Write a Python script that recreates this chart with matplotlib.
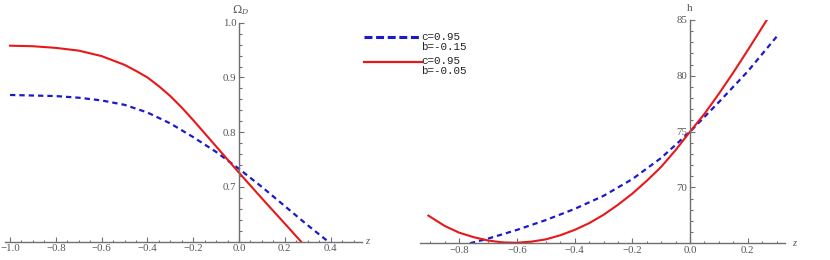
import numpy as np
import matplotlib
matplotlib.use("Agg")
import matplotlib.pyplot as plt
from matplotlib.lines import Line2D
from matplotlib.ticker import MultipleLocator, FixedLocator

plt.rcParams["mathtext.fontset"] = "dejavuserif"

# left panel: Omega_D(z)
z_om_blue = [-1.0, -0.9, -0.8, -0.7, -0.6, -0.5, -0.4, -0.3, -0.2,
             -0.1, 0.0, 0.1, 0.2, 0.3, 0.39]
om_blue = [0.868, 0.867, 0.866, 0.863, 0.858, 0.850, 0.836, 0.816, 0.791,
           0.764, 0.733, 0.700, 0.665, 0.630, 0.600]
z_om_red = [-1.0, -0.9, -0.8, -0.7, -0.6, -0.5, -0.45, -0.4, -0.35, -0.3,
            -0.25, -0.2, -0.15, -0.1, 0.0, 0.1, 0.2, 0.271]
om_red = [0.958, 0.957, 0.954, 0.949, 0.939, 0.923, 0.912, 0.900, 0.884, 0.866,
          0.845, 0.822, 0.798, 0.774, 0.726, 0.679, 0.633, 0.600]

# right panel: h(z)
z_h_blue = [-0.763, -0.7, -0.6, -0.5, -0.4, -0.3, -0.2, -0.1,
            0.0, 0.1, 0.2, 0.303]
h_blue = [65.0, 65.42, 66.2, 67.08, 68.08, 69.25, 70.75, 72.65,
          75.0, 77.65, 80.4, 83.6]
z_h_red = [-0.907, -0.85, -0.8, -0.75, -0.7, -0.65, -0.6, -0.55, -0.5,
           -0.45, -0.4, -0.35, -0.3, -0.25, -0.2, -0.15, -0.1, -0.05,
           0.0, 0.05, 0.1, 0.15, 0.2, 0.266]
h_red = [67.48, 66.55, 65.95, 65.55, 65.25, 65.08, 65.05, 65.15, 65.35,
         65.72, 66.2, 66.8, 67.55, 68.45, 69.45, 70.6, 71.85, 73.35,
         75.0, 76.6, 78.4, 80.3, 82.3, 85.0]

legend_labels = ["c=0.95\nb=-0.15", "c=0.95\nb=-0.05"]

BLUE = "#1a1acc"
RED = "#e81818"
AXC = "#707070"
TXT = "#555555"

W, H = 830, 260
fig = plt.figure(figsize=(W / 100, H / 100), dpi=100)


def frac(x0, x1, ytop, ybot):
    return [x0 / W, 1 - ybot / H, (x1 - x0) / W, (ybot - ytop) / H]


def style(ax, xmaj, xmin_, ymaj, ymin_, xlabels, ylabels):
    for s in ("top", "right"):
        ax.spines[s].set_visible(False)
    ax.spines["left"].set_position(("data", 0))
    for s in ("left", "bottom"):
        ax.spines[s].set_color(AXC)
        ax.spines[s].set_linewidth(1.0)
    ax.xaxis.set_major_locator(FixedLocator(xmaj))
    ax.xaxis.set_minor_locator(MultipleLocator(xmin_))
    ax.yaxis.set_major_locator(FixedLocator(ymaj))
    ax.yaxis.set_minor_locator(MultipleLocator(ymin_))
    ax.set_xticklabels(xlabels)
    ax.set_yticklabels(ylabels)
    ax.tick_params(which="both", direction="in", color=AXC, width=0.8)
    ax.tick_params(which="major", length=3.5, labelsize=7.8, labelcolor=TXT, pad=2)
    ax.tick_params(which="minor", length=1.8)
    for lab in ax.get_xticklabels() + ax.get_yticklabels():
        lab.set_fontfamily("Liberation Serif")


# left panel
ax1 = fig.add_axes(frac(5, 362, 22.7, 241.7))
ax1.plot(z_om_blue, om_blue, color=BLUE, lw=1.6, dashes=(2.4, 1.8))
ax1.plot(z_om_red, om_red, color=RED, lw=1.5)
ax1.set_xlim(-1.022, 0.537)
ax1.set_ylim(0.6, 1.0)
xt1 = [-1.0, -0.8, -0.6, -0.4, -0.2, 0.0, 0.2, 0.4]
yt1 = [0.7, 0.8, 0.9, 1.0]
style(ax1, xt1, 0.05, yt1, 0.02,
      ["\u22121.0", "\u22120.8", "\u22120.6", "\u22120.4", "\u22120.2", "0.0", "0.2", "0.4"],
      ["0.7", "0.8", "0.9", "1.0"])
ax1.annotate(r"$\Omega_D$", xy=(0, 1.0), xytext=(1, 4), textcoords="offset points",
             ha="center", va="bottom", fontsize=8, color=TXT, annotation_clip=False)
ax1.annotate("z", xy=(0.537, 0.6), xytext=(2, 0), textcoords="offset points",
             ha="left", va="center", fontsize=7.5, color=TXT, family="Liberation Serif",
             style="italic", annotation_clip=False)

# right panel
ax2 = fig.add_axes(frac(420, 785, 20, 243.3))
ax2.plot(z_h_blue, h_blue, color=BLUE, lw=1.6, dashes=(2.4, 1.8))
ax2.plot(z_h_red, h_red, color=RED, lw=1.5)
ax2.set_xlim(-0.936, 0.329)
ax2.set_ylim(65, 85)
xt2 = [-0.8, -0.6, -0.4, -0.2, 0.0, 0.2]
yt2 = [70, 75, 80, 85]
style(ax2, xt2, 0.05, yt2, 1,
      ["\u22120.8", "\u22120.6", "\u22120.4", "\u22120.2", "0.0", "0.2"],
      ["70", "75", "80", "85"])
ax2.annotate("h", xy=(0, 85), xytext=(0, 5), textcoords="offset points",
             ha="center", va="bottom", fontsize=8, color=TXT, family="Liberation Serif",
             annotation_clip=False)
ax2.annotate("z", xy=(0.329, 65), xytext=(5, 0), textcoords="offset points",
             ha="left", va="center", fontsize=7.5, color=TXT, family="Liberation Serif",
             style="italic", annotation_clip=False)

# legend drawn in figure coordinates
fig.add_artist(Line2D([364 / W, 421 / W], [1 - 36.7 / H] * 2, color=BLUE, lw=2.2,
                      dashes=(2.6, 1.2), transform=fig.transFigure))
fig.add_artist(Line2D([364 / W, 422 / W], [1 - 61.7 / H] * 2, color=RED, lw=1.6,
                      transform=fig.transFigure))
for y0, lab in zip([41.5, 66.5], legend_labels):
    fig.text(421.5 / W, 1 - y0 / H, lab, ha="left", va="center", fontsize=7.8,
             family="Liberation Mono", color="#222222", linespacing=1.0)

fig.savefig("out.png", dpi=100)
